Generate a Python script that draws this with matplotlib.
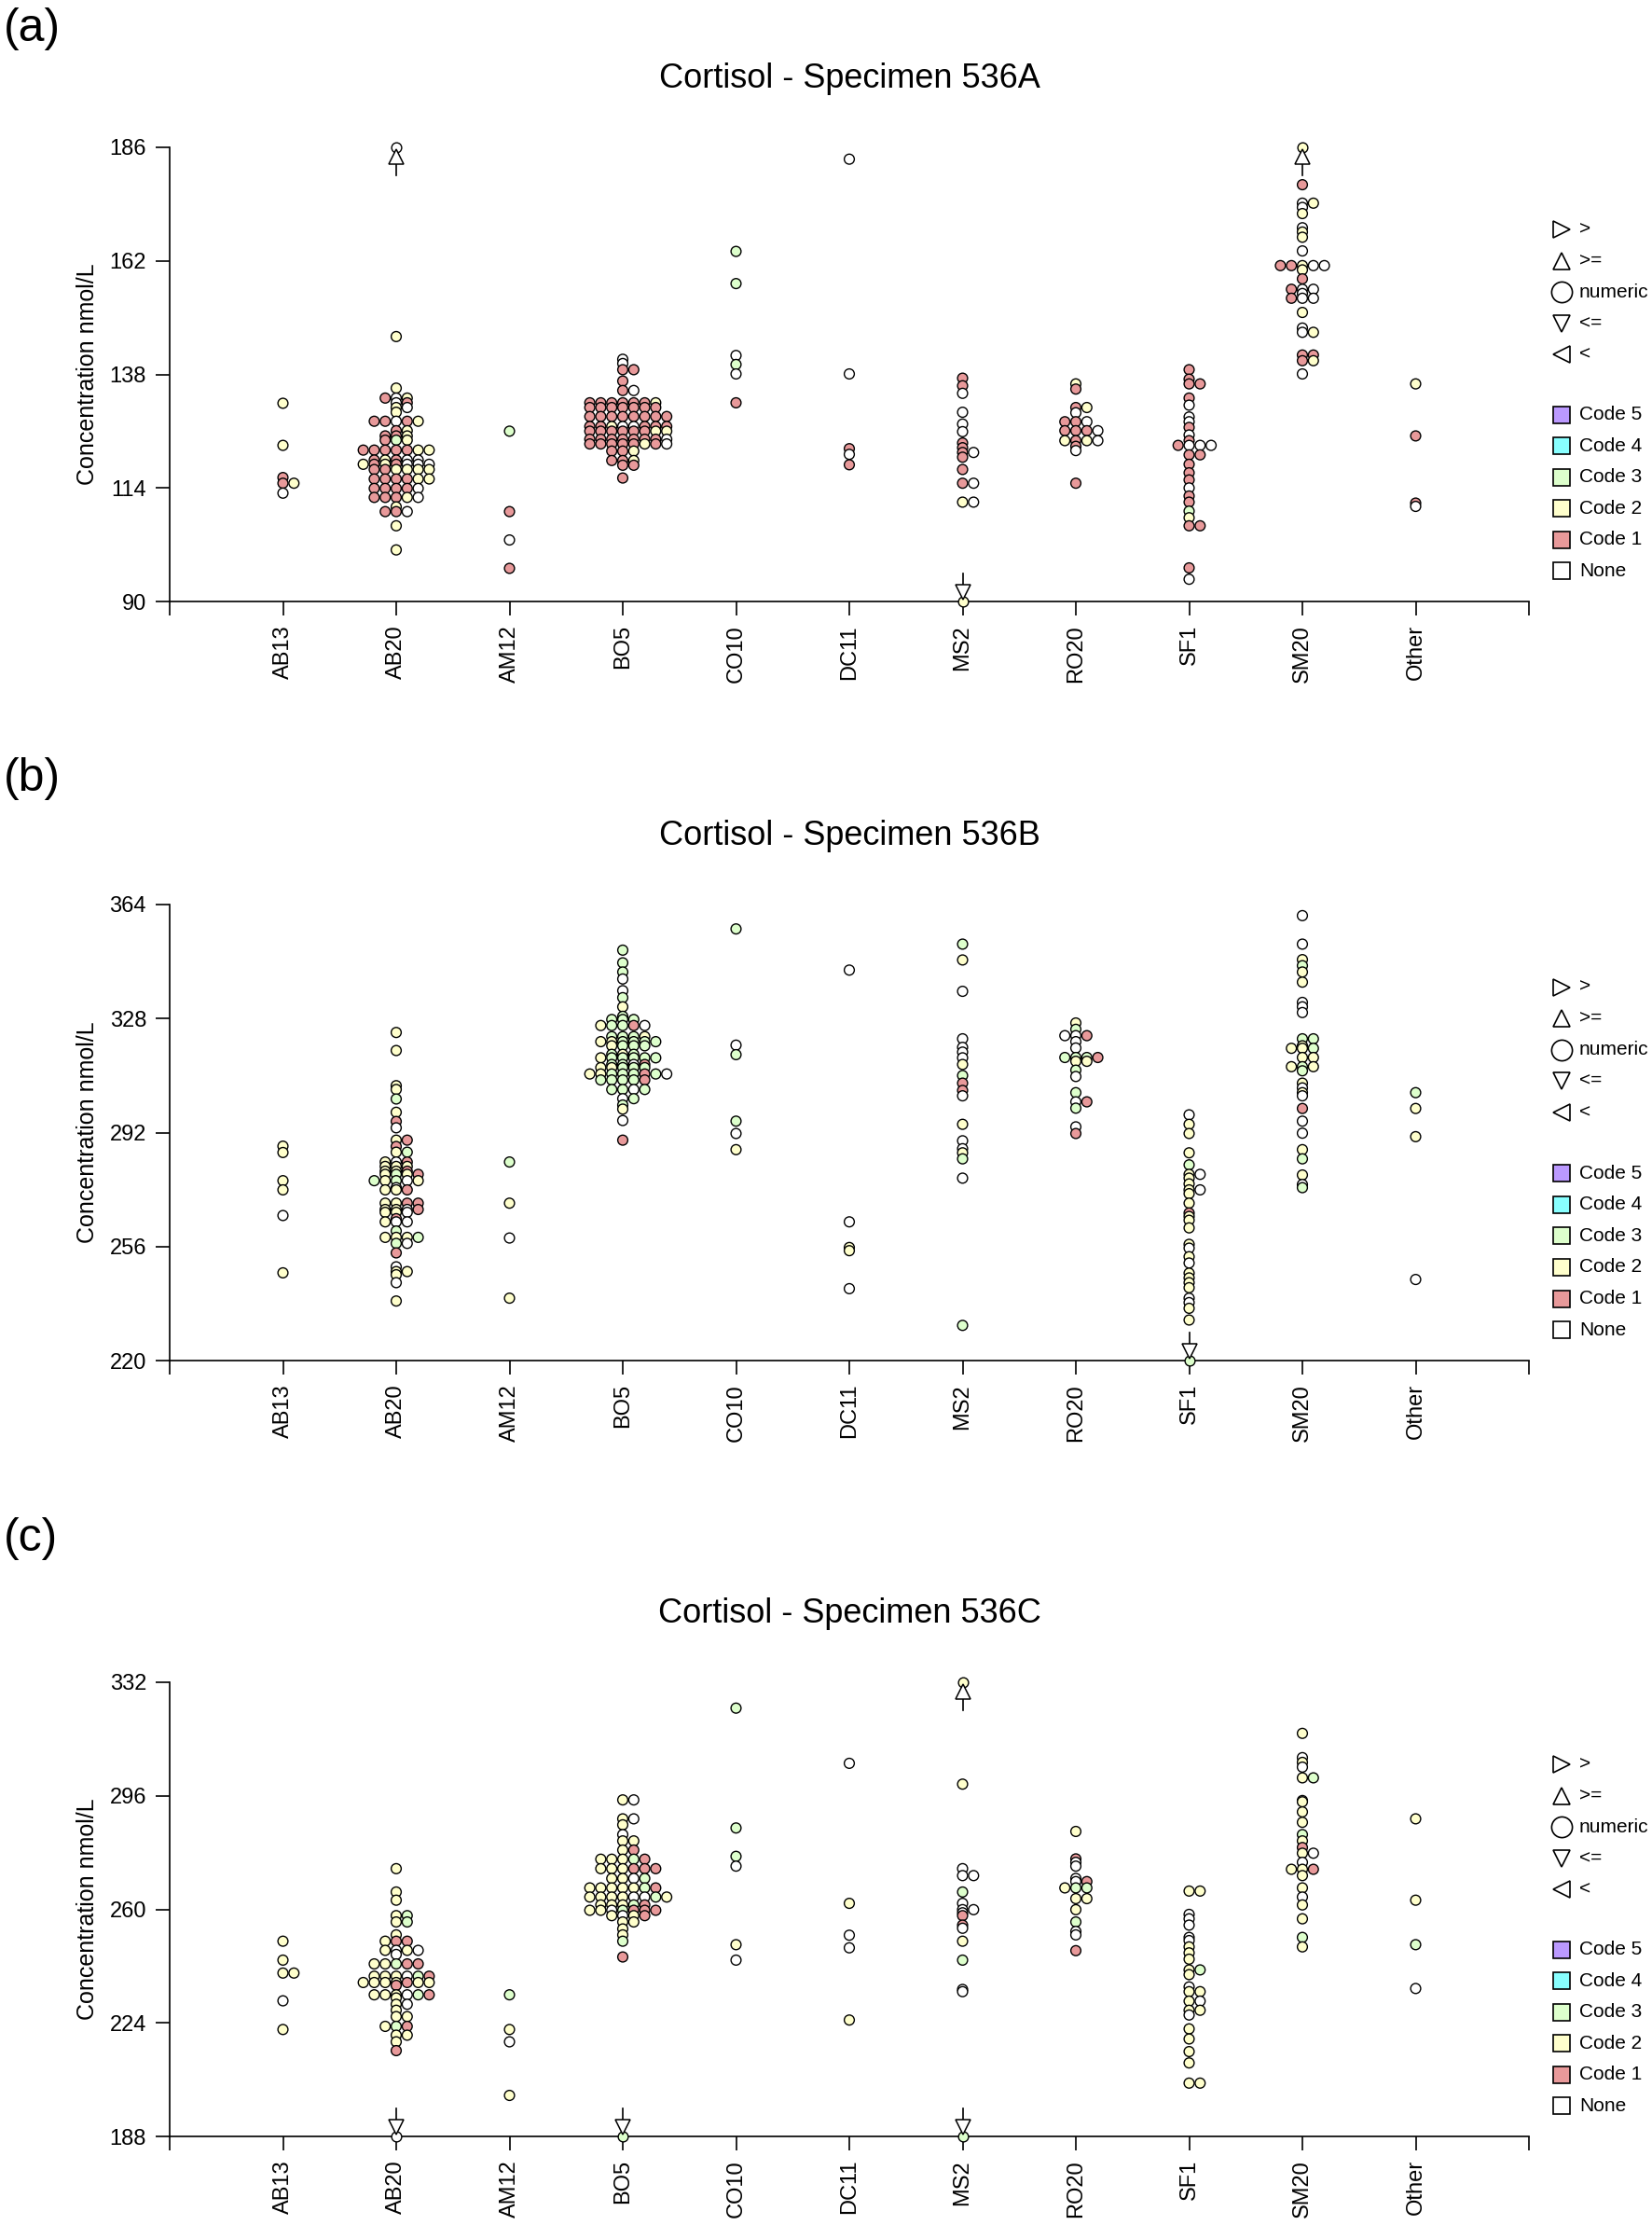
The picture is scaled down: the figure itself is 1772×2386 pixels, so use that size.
import matplotlib
matplotlib.use("Agg")
import matplotlib.pyplot as plt

plt.rcParams['font.family'] = ['Liberation Sans', 'DejaVu Sans']

CATS = ["AB13", "AB20", "AM12", "BO5", "CO10", "DC11", "MS2", "RO20", "SF1", "SM20", "Other"]
# code chars: 0 = None, 1..5 = Code 1..5
CODE_COLORS = {"0": "#FFFFFF", "1": "#E8999A", "2": "#FFFFCC", "3": "#DDFFCC",
               "4": "#88FFFF", "5": "#BB99FF"}

TITLES = ["Cortisol - Specimen 536A", "Cortisol - Specimen 536B", "Cortisol - Specimen 536C"]
PANEL_TAGS = ["(a)", "(b)", "(c)"]
YTICKS_A = [90, 114, 138, 162, 186]
YTICKS_B = [220, 256, 292, 328, 364]
YTICKS_C = [188, 224, 260, 296, 332]

# rows per category: (value, codes of the points sharing that value)
ROWS_A = [
    [(131.9, "2"), (123.0, "2"), (116.2, "1"), (115.0, "12"), (112.9, "0")],
    [(146.0, "2"), (135.1, "2"), (133.0, "102"), (132.0, "01"), (131.0, "20"), (130.0, "2"),
     (128.1, "11012"), (126.1, "12"), (125.0, "112"), (124.1, "132"), (122.0, "1111122"),
     (119.9, "12100"), (119.0, "2121000"), (117.9, "112222"), (115.9, "111122"),
     (113.9, "11110"), (112.0, "11120"), (110.0, "2"), (109.0, "110"), (106.0, "2"), (100.9, "2")],
    [(126.0, "3"), (109.0, "1"), (103.0, "0"), (97.0, "1")],
    [(141.2, "0"), (140.3, "0"), (139.0, "11"), (136.6, "1"), (134.6, "10"), (132.0, "1111112"),
     (131.0, "1111111"), (129.1, "11111111"), (127.0, "11200111"), (126.0, "11111122"),
     (124.3, "11111110"), (123.3, "11111210"), (121.8, "112"), (119.8, "112"), (118.8, "11"),
     (116.1, "1")],
    [(164.0, "3"), (157.2, "3"), (142.0, "0"), (140.1, "3"), (138.1, "0"), (132.0, "1")],
    [(183.5, "0"), (138.1, "0"), (122.3, "1"), (121.1, "0"), (118.9, "1")],
    [(137.2, "1"), (135.6, "1"), (134.0, "0"), (130.0, "0"), (127.5, "0"), (125.9, "0"),
     (123.5, "1"), (122.5, "1"), (121.5, "10"), (120.5, "1"), (117.9, "1"), (115.0, "10"),
     (111.0, "20")],
    [(136.0, "2"), (134.9, "1"), (131.0, "12"), (129.9, "0"), (128.0, "110"), (126.1, "1110"),
     (124.0, "2120"), (122.8, "1"), (121.9, "0"), (115.0, "1")],
    [(139.0, "1"), (137.0, "1"), (136.0, "11"), (133.0, "1"), (131.5, "0"), (129.0, "0"),
     (128.0, "0"), (126.8, "1"), (125.2, "0"), (124.0, "1"), (123.0, "1000"), (121.0, "11"),
     (119.0, "1"), (117.2, "1"), (115.7, "1"), (114.0, "0"), (112.3, "1"), (111.0, "1"),
     (109.1, "3"), (107.7, "2"), (106.0, "11"), (97.1, "1"), (94.7, "0")],
    [(178.1, "1"), (174.2, "02"), (173.3, "0"), (172.0, "2"), (169.0, "0"), (168.1, "2"),
     (167.0, "2"), (164.1, "0"), (161.0, "11200"), (160.1, "2"), (158.2, "1"), (156.0, "100"),
     (155.1, "0"), (154.1, "100"), (151.1, "2"), (147.8, "0"), (146.9, "02"), (142.1, "11"),
     (140.9, "12"), (138.1, "0")],
    [(136.0, "2"), (125.0, "1"), (110.8, "1"), (110.1, "0")],
]

ROWS_B = [
    [(287.7, "2"), (285.7, "2"), (276.8, "2"), (273.9, "2"), (265.8, "0"), (247.7, "2")],
    [(323.6, "2"), (317.9, "2"), (306.8, "2"), (305.6, "2"), (302.6, "3"), (298.4, "2"),
     (295.5, "1"), (293.5, "0"), (289.6, "21"), (287.6, "1"), (285.8, "23"), (282.7, "201"),
     (281.3, "222"), (279.8, "221"), (278.8, "2321"), (276.8, "32302"), (274.6, "0"),
     (273.9, "221"), (269.7, "2211"), (267.7, "2201"), (266.8, "220"), (264.8, "1"),
     (263.8, "200"), (260.9, "3"), (258.9, "2223"), (257.0, "30"), (254.0, "1"), (249.6, "0"),
     (248.1, "22"), (247.1, "2"), (244.6, "0"), (238.8, "2")],
    [(282.7, "3"), (269.7, "2"), (258.7, "0"), (239.7, "2")],
    [(349.6, "3"), (345.6, "3"), (342.7, "3"), (340.5, "0"), (336.8, "0"), (334.6, "3"),
     (331.7, "2"), (328.7, "3"), (327.7, "333"), (325.8, "23310"), (322.3, "3332"),
     (320.7, "223333"), (319.4, "2333"), (316.7, "323"), (315.6, "233333"), (313.5, "3301"),
     (312.5, "22333"), (310.5, "22333130"), (308.6, "33331"), (305.6, "3303"), (302.7, "03"),
     (300.7, "3"), (299.4, "2"), (295.8, "0"), (289.6, "1")],
    [(356.3, "3"), (319.6, "0"), (316.6, "3"), (295.6, "3"), (291.7, "0"), (286.6, "2")],
    [(343.3, "0"), (263.8, "0"), (255.7, "2"), (254.7, "2"), (242.7, "0")],
    [(351.5, "3"), (346.5, "2"), (336.6, "0"), (321.6, "0"), (318.9, "0"), (317.4, "0"),
     (315.6, "0"), (313.5, "2"), (310.0, "3"), (307.6, "1"), (305.3, "1"), (303.6, "0"),
     (294.6, "2"), (289.4, "0"), (286.9, "0"), (285.6, "2"), (283.7, "3"), (277.6, "0"),
     (231.1, "3")],
    [(326.6, "2"), (324.6, "3"), (322.6, "001"), (320.7, "0"), (318.7, "0"), (315.7, "3331"),
     (314.5, "22"), (311.7, "3"), (309.7, "0"), (304.6, "3"), (301.7, "01"), (299.7, "3"),
     (293.8, "0"), (291.7, "1")],
    [(297.6, "0"), (294.6, "2"), (291.7, "2"), (285.6, "2"), (281.8, "3"), (278.8, "20"),
     (277.6, "2"), (275.8, "2"), (273.9, "20"), (272.7, "2"), (269.7, "2"), (266.6, "1"),
     (265.5, "2"), (264.3, "2"), (261.9, "2"), (256.7, "2"), (255.5, "0"), (252.8, "2"),
     (250.8, "0"), (247.6, "2"), (246.1, "2"), (244.6, "2"), (243.0, "2"), (239.7, "0"),
     (238.3, "0"), (236.5, "2"), (232.8, "2")],
    [(360.5, "0"), (351.5, "0"), (346.6, "2"), (344.7, "3"), (342.7, "2"), (339.5, "2"),
     (333.1, "0"), (331.7, "0"), (329.9, "0"), (321.6, "33"), (319.4, "2"), (318.6, "223"),
     (315.7, "22"), (312.8, "232"), (311.5, "3"), (307.6, "2"), (306.1, "0"), (304.6, "2"),
     (303.6, "0"), (299.6, "1"), (295.6, "0"), (291.8, "0"), (286.6, "2"), (283.7, "3"),
     (278.6, "2"), (275.6, "0"), (274.6, "3")],
    [(304.6, "3"), (299.6, "2"), (290.7, "2"), (245.6, "0")],
]

ROWS_C = [
    [(249.9, "2"), (243.9, "2"), (239.8, "22"), (231.0, "0"), (221.9, "2")],
    [(272.9, "2"), (265.5, "2"), (262.9, "2"), (258.0, "23"), (256.0, "23"), (251.9, "2"),
     (249.9, "211"), (247.0, "2020"), (245.7, "0"), (242.7, "22311"), (238.8, "222031"),
     (236.8, "2222122"), (235.9, "1"), (232.9, "222031"), (231.9, "2"), (229.9, "20"),
     (228.0, "2"), (226.0, "22"), (222.9, "231"), (220.1, "22"), (218.0, "2"), (215.2, "1")],
    [(232.9, "3"), (221.9, "2"), (218.0, "0"), (201.0, "2")],
    [(294.7, "20"), (288.7, "20"), (286.8, "2"), (283.7, "0"), (281.7, "22"), (278.8, "21"),
     (275.9, "22231"), (272.9, "222111"), (269.8, "2203"), (266.8, "2222231"),
     (263.9, "22220032"), (261.4, "22231"), (259.7, "2203111"), (258.0, "2021"), (256.0, "22"),
     (253.8, "2"), (251.9, "2"), (249.9, "3"), (244.9, "1")],
    [(323.8, "3"), (285.8, "3"), (276.8, "3"), (273.7, "0"), (248.8, "2"), (243.9, "0")],
    [(306.3, "0"), (261.9, "2"), (251.8, "0"), (247.8, "0"), (224.9, "2")],
    [(299.7, "2"), (272.9, "0"), (270.7, "00"), (265.5, "3"), (261.9, "0"), (259.9, "00"),
     (258.9, "0"), (258.0, "1"), (255.0, "1"), (254.0, "0"), (249.9, "2"), (243.9, "3"),
     (234.6, "0"), (233.9, "0")],
    [(284.7, "2"), (276.0, "1"), (274.9, "0"), (273.7, "0"), (269.8, "0"), (268.8, "01"),
     (266.8, "233"), (263.4, "22"), (259.9, "2"), (256.0, "3"), (253.0, "0"), (251.9, "0"),
     (246.9, "1")],
    [(265.8, "22"), (258.4, "0"), (257.0, "0"), (255.0, "0"), (251.1, "0"), (250.1, "0"),
     (248.1, "2"), (246.2, "2"), (244.2, "2"), (240.8, "23"), (239.3, "2"), (235.4, "0"),
     (233.9, "22"), (230.9, "20"), (228.0, "22"), (226.5, "0"), (222.1, "2"), (218.9, "2"),
     (214.9, "2"), (211.3, "2"), (204.9, "22")],
    [(315.8, "2"), (308.1, "0"), (306.6, "2"), (305.1, "0"), (301.7, "23"), (294.5, "0"),
     (294.1, "2"), (290.9, "2"), (287.6, "2"), (283.7, "3"), (281.7, "2"), (279.6, "1"),
     (277.8, "20"), (274.9, "0"), (272.7, "221"), (270.7, "2"), (266.8, "2"), (263.9, "0"),
     (261.4, "2"), (257.0, "2"), (251.1, "3"), (248.1, "2")],
    [(288.7, "2"), (262.9, "2"), (248.8, "3"), (234.9, "0")],
]

# censored results drawn at the axis limit: (category, value, qualifier, code)
CENSOR_A = [("AB20", 186, ">=", "0"), ("SM20", 186, ">=", "2"), ("MS2", 90, "<=", "2")]
CENSOR_B = [("SF1", 220, "<=", "3")]
CENSOR_C = [("AB20", 188, "<=", "0"), ("BO5", 188, "<=", "3"),
            ("MS2", 332, ">=", "2"), ("MS2", 188, "<=", "3")]

LEGEND_SYMBOLS = [(">", ">"), ("^", ">="), ("o", "numeric"), ("v", "<="), ("<", "<")]
LEGEND_CODES = [("5", "Code 5"), ("4", "Code 4"), ("3", "Code 3"), ("2", "Code 2"),
                ("1", "Code 1"), ("0", "None")]

W, H = 1772, 2386
XSTEP = 0.097          # one marker diameter in category units
# axes placement in pixels: (top, bottom), and the y of the (a)/(b)/(c) tags
AX_PX = [(158, 645), (970, 1459), (1804, 2291)]
TAG_Y = [31, 835, 1650]


def row_offsets(n):
    order, k = [0], 1
    while len(order) < n:
        order.append(k)
        if len(order) < n:
            order.append(-k)
        k += 1
    return sorted(order)


fig = plt.figure(figsize=(W / 100, H / 100), dpi=100)
panels = [(ROWS_A, CENSOR_A, YTICKS_A), (ROWS_B, CENSOR_B, YTICKS_B), (ROWS_C, CENSOR_C, YTICKS_C)]
for p, (rows, censor, yt) in enumerate(panels):
    top, bot = AX_PX[p]
    ax = fig.add_axes([182 / W, 1 - bot / H, (1640 - 182) / W, (bot - top) / H])
    ymin, ymax = yt[0], yt[-1]
    ax.set_xlim(0, 12)
    ax.set_ylim(ymin, ymax)
    dpp = (ymax - ymin) / (bot - top)   # data units per pixel

    xs, ys, cs = [], [], []
    for i, cat_rows in enumerate(rows):
        for val, codes in cat_rows:
            for c, o in zip(codes, row_offsets(len(codes))):
                xs.append(i + 1 + o * XSTEP)
                ys.append(val)
                cs.append(CODE_COLORS[c])
    ax.scatter(xs, ys, s=60, c=cs, edgecolors="black", linewidths=1.0, zorder=3, clip_on=False)

    for cat, val, q, code in censor:
        x = CATS.index(cat) + 1
        d = 1 if q == ">=" else -1
        ax.scatter([x], [val], s=60, c=[CODE_COLORS[code]], edgecolors="black",
                   linewidths=1.0, zorder=3, clip_on=False)
        ax.plot([x, x], [val - d * 10 * dpp, val - d * 30 * dpp], color="black", lw=1.2,
                zorder=4, clip_on=False)
        ax.plot([x], [val - d * 10 * dpp], marker="^" if d > 0 else "v", ms=11,
                mfc="white", mec="black", mew=1.1, zorder=5, clip_on=False)

    for s in ("top", "right"):
        ax.spines[s].set_visible(False)
    for s in ("left", "bottom"):
        ax.spines[s].set_linewidth(1.2)
    ax.set_xticks(range(13))
    ax.set_xticklabels([""] + CATS + [""], rotation=90)
    ax.set_yticks(yt)
    ax.tick_params(axis="both", direction="out", length=11, width=1.2, labelsize=17)
    ax.tick_params(axis="y", pad=7)
    ax.tick_params(axis="x", pad=7)
    ax.set_ylabel("Concentration nmol/L", fontsize=18)
    ax.yaxis.set_label_coords(-0.052, 0.5)
    ax.text(0.5, 1 + 74 / (bot - top), TITLES[p], transform=ax.transAxes,
            ha="center", va="center", fontsize=26)
    fig.text(0.002, 1 - TAG_Y[p] / H, PANEL_TAGS[p], fontsize=36, ha="left", va="center")

    # legend
    ly = 0.819
    step = 0.0688
    for j, (m, lab) in enumerate(LEGEND_SYMBOLS):
        yy = ly - j * step
        ax.plot([1.024], [yy], marker=m, ms=16 if m == "o" else 13, mfc="white", mec="black",
                mew=1.2, transform=ax.transAxes, clip_on=False)
        ax.text(1.037, yy, lab, transform=ax.transAxes, va="center", ha="left", fontsize=15)
    for j, (code, lab) in enumerate(LEGEND_CODES):
        yy = 0.411 - j * step
        ax.plot([1.024], [yy], marker="s", ms=13, mfc=CODE_COLORS[code], mec="black",
                mew=1.2, transform=ax.transAxes, clip_on=False)
        ax.text(1.037, yy, lab, transform=ax.transAxes, va="center", ha="left", fontsize=15)

fig.savefig("out.png", dpi=100)
